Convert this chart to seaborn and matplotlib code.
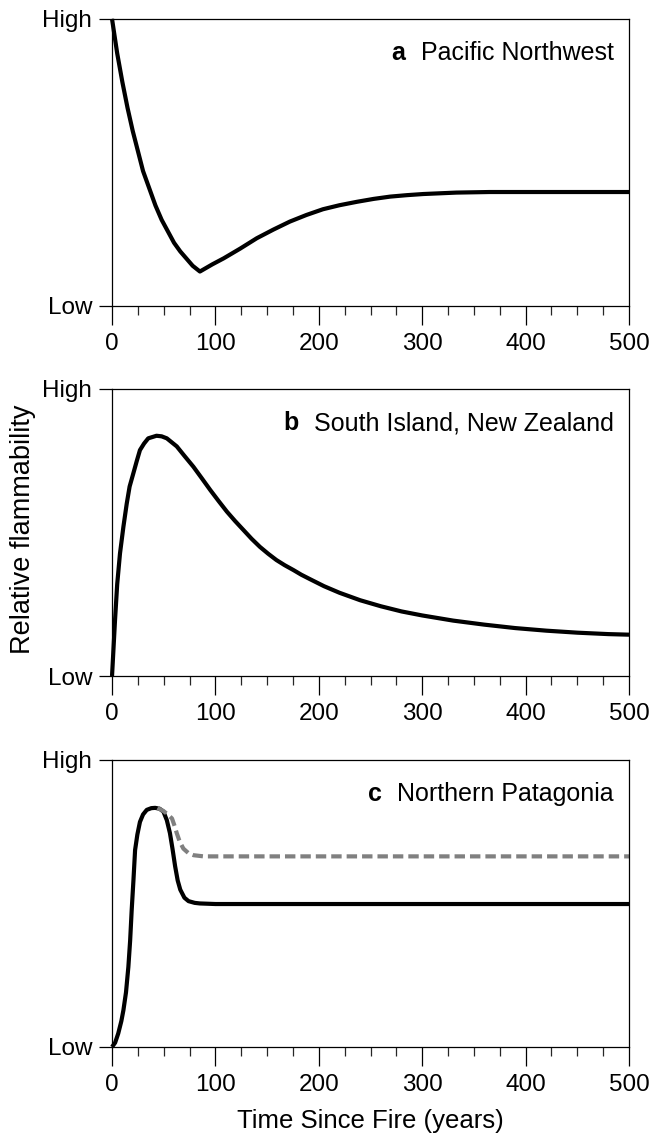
import numpy as np
import pandas as pd
import matplotlib
matplotlib.use("Agg")
import matplotlib.pyplot as plt
from matplotlib.ticker import MultipleLocator
import seaborn as sns

# panel a: Pacific Northwest
pnw_years = [0, 5, 10, 15, 20, 25, 30, 36, 42, 48, 54, 60, 66, 72, 78, 85,
             97, 108, 124, 140, 156, 172, 188, 204, 220, 237, 253, 269, 285,
             301, 333, 365, 420, 500]
pnw_flam = [1.0, 0.88, 0.78, 0.69, 0.61, 0.54, 0.47, 0.41, 0.35, 0.30, 0.26,
            0.22, 0.19, 0.165, 0.14, 0.12,
            0.145, 0.166, 0.20, 0.236, 0.266, 0.294, 0.317, 0.337, 0.351,
            0.363, 0.373, 0.381, 0.386, 0.390, 0.395, 0.397, 0.397, 0.397]

# panel b: South Island, New Zealand
nz_years = [0, 2.9, 5, 7.7, 11, 14.2, 17, 20.6, 24, 27, 31, 35, 43, 48, 53,
            62.6, 70, 78.7, 87, 95, 103, 111, 119, 127, 135, 143, 151, 159,
            167, 175.5, 183, 191.7, 205, 220, 240, 260, 280, 300, 330, 360,
            390, 420, 450, 480, 500]
nz_flam = [0.0, 0.195, 0.32, 0.427, 0.52, 0.60, 0.66, 0.706, 0.75, 0.787,
           0.81, 0.828, 0.837, 0.835, 0.828, 0.80, 0.767, 0.729, 0.688, 0.648,
           0.61, 0.573, 0.54, 0.509, 0.478, 0.45, 0.426, 0.404, 0.386, 0.369,
           0.353, 0.337, 0.313, 0.29, 0.264, 0.243, 0.225, 0.211, 0.193, 0.179,
           0.167, 0.158, 0.151, 0.146, 0.144]

# panel c: Northern Patagonia (solid and dashed)
pat_years = [0, 3, 6, 9, 11, 13.5, 15.8, 17.5, 19, 20.7, 22.3, 24.5, 27, 30,
             33.6, 38, 41.7, 46, 49.7, 53, 56, 58.5, 61, 63.5, 66, 70, 74, 80,
             85, 100, 500]
pat_flam = [0.0, 0.015, 0.047, 0.09, 0.128, 0.19, 0.279, 0.37, 0.476, 0.58,
            0.686, 0.74, 0.784, 0.81, 0.826, 0.832, 0.833, 0.83, 0.82, 0.79,
            0.745, 0.69, 0.63, 0.58, 0.548, 0.52, 0.508, 0.502, 0.50, 0.498,
            0.498]
pat_alt_years = [44, 49.7, 54, 58, 60.5, 62.6, 65.5, 69, 74, 79, 88.6, 100, 500]
pat_alt_flam = [0.833, 0.822, 0.81, 0.796, 0.77, 0.745, 0.715, 0.691, 0.675,
                0.668, 0.664, 0.664, 0.664]

panel_letters = ["a", "b", "c"]
panel_names = ["Pacific Northwest", "South Island, New Zealand", "Northern Patagonia"]

sns.set_style("ticks")
plt.rcParams["font.family"] = ["Liberation Sans", "DejaVu Sans"]
plt.rcParams["text.color"] = "black"

fig = plt.figure(figsize=(6.54, 11.4), dpi=100)
left, width, height = 0.1713, 0.7905, 0.2518
bottoms = [0.7316, 0.4070, 0.0816]
axes = [fig.add_axes([left, b, width, height]) for b in bottoms]

sns.lineplot(data=pd.DataFrame({"x": pnw_years, "y": pnw_flam}), x="x", y="y",
             ax=axes[0], color="black", lw=3, estimator=None)
sns.lineplot(data=pd.DataFrame({"x": nz_years, "y": nz_flam}), x="x", y="y",
             ax=axes[1], color="black", lw=3, estimator=None)
sns.lineplot(data=pd.DataFrame({"x": pat_years, "y": pat_flam}), x="x", y="y",
             ax=axes[2], color="black", lw=3, estimator=None)
sns.lineplot(data=pd.DataFrame({"x": pat_alt_years, "y": pat_alt_flam}), x="x", y="y",
             ax=axes[2], color="#808080", lw=3, estimator=None,
             dashes=False, linestyle=(0, (2.5, 1.2)))

for ax, letter, name in zip(axes, panel_letters, panel_names):
    ax.set_xlim(0, 500)
    ax.set_ylim(0, 1)
    ax.set_yticks([0, 1])
    ax.set_yticklabels(["Low", "High"])
    ax.xaxis.set_major_locator(MultipleLocator(100))
    ax.xaxis.set_minor_locator(MultipleLocator(25))
    ax.tick_params(axis="x", which="major", length=13.5, width=0.9, pad=6, direction="out")
    ax.tick_params(axis="x", which="minor", length=6.5, width=0.9, direction="out")
    ax.tick_params(axis="y", length=9.4, width=0.9, pad=5, direction="out")
    ax.tick_params(labelsize=17.5, colors="black")
    for sp in ax.spines.values():
        sp.set_linewidth(0.9)
        sp.set_color("black")
    ax.set_xlabel("")
    ax.set_ylabel("")
    for ln in ax.lines:
        ln.set_clip_on(False)
        ln.set_solid_capstyle("butt")
    t = ax.text(0.97, 0.88, name, transform=ax.transAxes, ha="right", va="center",
                fontsize=18)
    ax.annotate(letter, xy=(0, 0.5), xycoords=t, xytext=(-11, 0),
                textcoords="offset points", ha="right", va="center",
                fontsize=18, fontweight="bold")

fig.text(0.035, 0.536, "Relative flammability", rotation=90, ha="center",
         va="center", fontsize=19.5)
fig.text(left + width / 2, 0.0167, "Time Since Fire (years)", ha="center",
         va="center", fontsize=18.5)

fig.savefig("out.png", dpi=100, facecolor="white")
